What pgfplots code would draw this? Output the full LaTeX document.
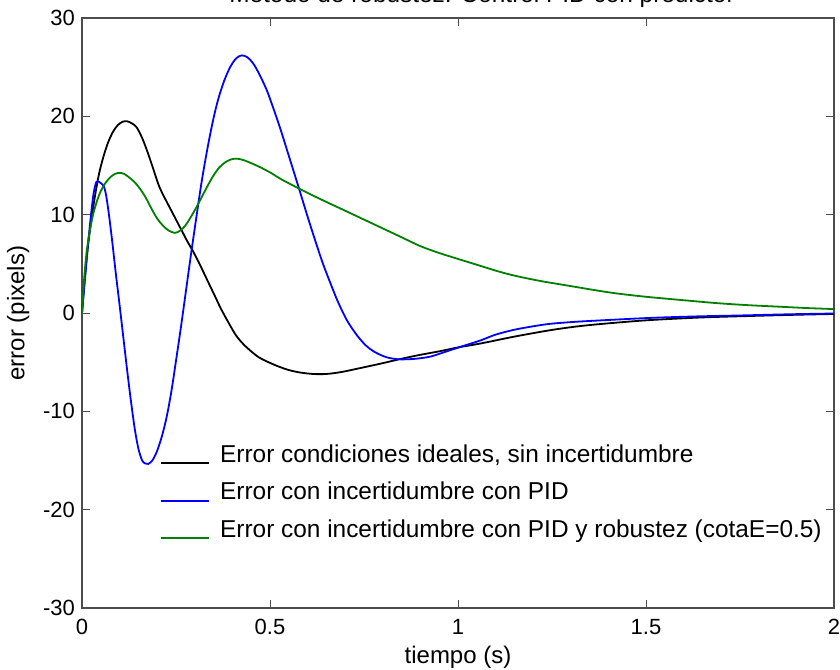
\documentclass[border=0pt]{standalone}
\usepackage{pgfplots}
\pgfplotsset{compat=1.18}
\usepackage{fontspec}
\setmainfont{Liberation Sans}
\definecolor{mgreen}{rgb}{0,0.5,0}
\definecolor{mblue}{rgb}{0,0,1}
\begin{document}
\begin{tikzpicture}
\begin{axis}[
  name=ax, at={(0,0)}, anchor=south west,
  scale only axis, width=376pt, height=295pt,
  xmin=0, xmax=2, ymin=-30, ymax=30,
  xtick={0,0.5,1,1.5,2}, ytick={-30,-20,-10,0,10,20,30},
  xticklabels={0,0.5,1,1.5,2},
  yticklabels={-30,-20,-10,0,10,20,30},
  tick align=inside, major tick length=4pt,
  tick style={black!70, line width=0.5pt},
  axis line style={black!70, line width=0.6pt},
  ticklabel style={font=\fontsize{11}{13}\selectfont},
  xticklabel style={yshift=-2pt},
  label style={font=\fontsize{12}{14}\selectfont},
  xlabel={tiempo (s)}, ylabel={error (pixels)},
  xlabel style={at={(axis description cs:0.5,0)}, anchor=center, yshift=-24.5pt},
  ylabel style={at={(axis description cs:-0.085,0.5)}, anchor=center},
  legend cell align=left,
  legend style={at={(0.1037,0.278)}, anchor=north west, draw=none, fill=none,
    font=\fontsize{12.2}{14}\selectfont, inner sep=0pt,
    nodes={inner xsep=2pt, inner ysep=0pt, text height=9pt, text depth=9.75pt}},
  legend image code/.code={\draw[#1] (0pt,0pt) -- (24pt,0pt); \path (27pt,0pt);},
  clip=true,
]
\addplot[color=black, line width=0.9pt, smooth, tension=0.5] coordinates {
(0,0) (0.007,3.3) (0.015,6.5) (0.025,9.5) (0.035,12.0) (0.045,14.1) (0.057,15.9)
(0.069,17.3) (0.082,18.4) (0.095,19.1) (0.108,19.45) (0.12,19.5) (0.132,19.3)
(0.145,18.9) (0.16,17.8) (0.175,16.3) (0.19,14.6) (0.205,12.9) (0.22,11.7)
(0.235,10.6) (0.25,9.5) (0.265,8.4) (0.28,7.3) (0.295,6.3) (0.31,5.2)
(0.325,4.0) (0.34,2.8) (0.355,1.6) (0.37,0.4) (0.39,-1.0) (0.41,-2.3)
(0.43,-3.2) (0.45,-3.9) (0.47,-4.5) (0.49,-4.9) (0.52,-5.4) (0.55,-5.8)
(0.58,-6.05) (0.615,-6.2) (0.65,-6.2) (0.69,-6.0) (0.74,-5.6) (0.8,-5.1)
(0.85,-4.65) (0.9,-4.25) (0.95,-3.9) (1.0,-3.5) (1.06,-3.1) (1.15,-2.4)
(1.245,-1.75) (1.32,-1.35) (1.4,-1.05) (1.51,-0.72) (1.65,-0.45) (1.78,-0.3)
(1.9,-0.18) (2.0,-0.1)
};
\addlegendentry{Error condiciones ideales, sin incertidumbre}
\addplot[color=mblue, line width=0.9pt, smooth, tension=0.5] coordinates {
(0,0) (0.008,3.5) (0.016,7.0) (0.024,10.0) (0.031,12.2) (0.038,13.3) (0.045,13.35)
(0.052,13.15) (0.058,12.9) (0.064,12.0) (0.071,10.2) (0.08,7.4) (0.09,4.0)
(0.1,0.8) (0.11,-2.5) (0.12,-5.8) (0.13,-8.9) (0.14,-11.7) (0.15,-13.8)
(0.16,-15.0) (0.168,-15.3) (0.176,-15.35) (0.187,-15.0) (0.199,-14.1)
(0.212,-12.6) (0.225,-10.6) (0.238,-7.9) (0.251,-4.6) (0.264,-1.2) (0.277,2.4)
(0.29,6.0) (0.304,9.7) (0.318,13.3) (0.333,16.6) (0.348,19.5) (0.362,21.7)
(0.378,23.6) (0.394,25.0) (0.41,25.9) (0.425,26.2) (0.44,26.0) (0.455,25.4)
(0.47,24.4) (0.491,22.7) (0.51,20.7) (0.527,18.8) (0.545,16.6) (0.563,14.4)
(0.58,12.3) (0.6,9.8) (0.62,7.4) (0.64,5.1) (0.66,3.1) (0.68,1.2) (0.704,-0.7)
(0.73,-2.2) (0.755,-3.3) (0.78,-4.0) (0.81,-4.5) (0.84,-4.7) (0.87,-4.7)
(0.9,-4.6) (0.93,-4.4) (0.97,-3.9) (1.01,-3.4) (1.059,-2.8) (1.1,-2.2)
(1.15,-1.7) (1.2,-1.35) (1.245,-1.1) (1.31,-0.9) (1.38,-0.75) (1.51,-0.5)
(1.63,-0.35) (1.75,-0.25) (1.88,-0.13) (2.0,-0.05)
};
\addlegendentry{Error con incertidumbre con PID}
\addplot[color=mgreen, line width=0.9pt, smooth, tension=0.5] coordinates {
(0,0) (0.006,3.6) (0.012,6.1) (0.02,8.2) (0.03,10.1) (0.04,11.4) (0.05,12.4)
(0.062,13.2) (0.075,13.8) (0.088,14.15) (0.1,14.25) (0.112,14.15) (0.125,13.8)
(0.14,13.3) (0.155,12.6) (0.17,11.7) (0.185,10.6) (0.2,9.6) (0.215,8.9)
(0.23,8.4) (0.2465,8.15) (0.26,8.35) (0.275,8.9) (0.29,9.8) (0.305,10.8)
(0.32,11.9) (0.335,13.0) (0.35,14.0) (0.365,14.8) (0.38,15.3) (0.395,15.6)
(0.41,15.7) (0.425,15.6) (0.44,15.4) (0.47,14.9) (0.5,14.3) (0.53,13.6)
(0.58,12.6) (0.633,11.6) (0.7,10.4) (0.75,9.5) (0.8,8.6) (0.85,7.7) (0.9,6.8)
(0.95,6.1) (1.0,5.5) (1.059,4.8) (1.11,4.2) (1.156,3.75) (1.22,3.25) (1.29,2.8)
(1.36,2.35) (1.42,2.0) (1.5,1.65) (1.6,1.3) (1.69,1.0) (1.77,0.8) (1.85,0.65)
(1.93,0.5) (2.0,0.4)
};
\addlegendentry{Error con incertidumbre con PID y robustez (cotaE=0.5)}
\end{axis}
\node[anchor=base, font=\fontsize{12.2}{14}\selectfont] at ([yshift=8pt,xshift=12pt]ax.north) {Método de robustez: Control PID con predictor};
\pgfresetboundingbox
\path[use as bounding box] (-41pt,-30.5pt) rectangle (379pt,304pt);
\end{tikzpicture}
\end{document}
